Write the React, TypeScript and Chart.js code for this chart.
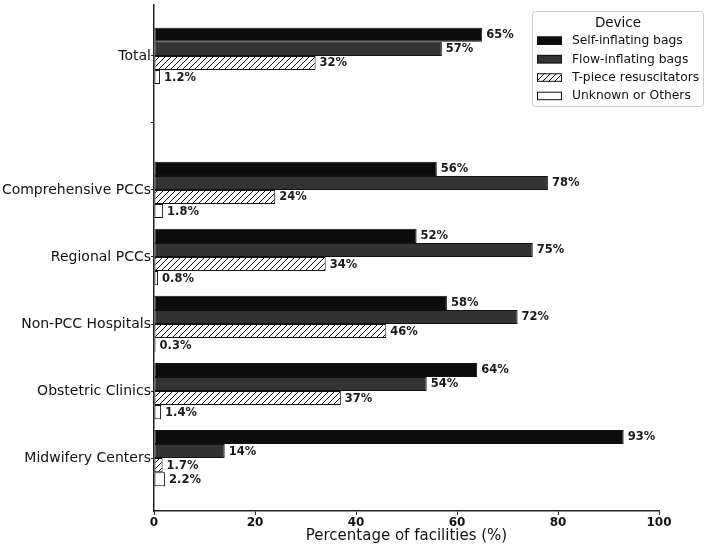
import { useEffect, useRef } from 'react';
import { Chart, registerables } from 'chart.js';

Chart.register(...registerables);

// Facility groups (the empty slot separates the overall total from the breakdown)
const categories = [
  'Total',
  '',
  'Comprehensive PCCs',
  'Regional PCCs',
  'Non-PCC Hospitals',
  'Obstetric Clinics',
  'Midwifery Centers',
];

// Share of facilities equipped with each device (%)
const selfInflating = [65, null, 56, 52, 58, 64, 93];
const flowInflating = [57, null, 78, 75, 72, 54, 14];
const tPiece = [32, null, 24, 34, 46, 37, 1.7];
const unknownOther = [1.2, null, 1.8, 0.8, 0.3, 1.4, 2.2];

const seriesNames = [
  'Self-inflating bags',
  'Flow-inflating bags',
  'T-piece resuscitators',
  'Unknown or Others',
];

const legendTitle = 'Device';
const xTitle = 'Percentage of facilities (%)';
const xMin = 0;
const xMax = 100;
const xStep = 20;

const FONT = "'DejaVu Sans', 'Liberation Sans', sans-serif";
const INK = '#111111';
const AXIS = '#222222';

type Val = number | null;

function toPoints(values: Val[]) {
  const pts: { x: number; y: number }[] = [];
  values.forEach((v, i) => {
    if (v != null) pts.push({ x: v, y: i });
  });
  return pts;
}

function fmt(v: number): string {
  return v < 10 ? `${v.toFixed(1)}%` : `${Math.round(v)}%`;
}

function makeHatch(): CanvasPattern | string {
  const s = 6;
  const c = document.createElement('canvas');
  c.width = s;
  c.height = s;
  const g = c.getContext('2d');
  if (!g) return '#ffffff';
  g.fillStyle = '#ffffff';
  g.fillRect(0, 0, s, s);
  g.strokeStyle = '#111111';
  g.lineWidth = 1;
  g.beginPath();
  g.moveTo(0, s);
  g.lineTo(s, 0);
  g.moveTo(-1, 1);
  g.lineTo(1, -1);
  g.moveTo(s - 1, s + 1);
  g.lineTo(s + 1, s - 1);
  g.stroke();
  return g.createPattern(c, 'repeat') || '#ffffff';
}

// Percent labels written just past the end of every bar
const valueLabels = {
  id: 'valueLabels',
  afterDatasetsDraw(chart: any) {
    const ctx = chart.ctx;
    ctx.save();
    ctx.font = `bold 11.5px ${FONT}`;
    ctx.fillStyle = '#1a1a1a';
    ctx.textAlign = 'left';
    ctx.textBaseline = 'middle';
    chart.data.datasets.forEach((ds: any, di: number) => {
      const meta = chart.getDatasetMeta(di);
      meta.data.forEach((bar: any, j: number) => {
        const v = ds.data[j].x as number;
        ctx.fillText(fmt(v), bar.x + 4, bar.y + 0.5);
      });
    });
    ctx.restore();
  },
};

// Boxed legend in the upper right corner
const deviceLegend = {
  id: 'deviceLegend',
  afterDraw(chart: any) {
    const ctx = chart.ctx;
    const bx = 532.5;
    const by = 11.5;
    const bw = 171;
    const bh = 95;
    ctx.save();
    ctx.beginPath();
    ctx.roundRect(bx, by, bw, bh, 3);
    ctx.fillStyle = 'rgba(255,255,255,0.9)';
    ctx.fill();
    ctx.strokeStyle = '#cccccc';
    ctx.lineWidth = 1;
    ctx.stroke();

    ctx.fillStyle = INK;
    ctx.font = `13.5px ${FONT}`;
    ctx.textAlign = 'center';
    ctx.textBaseline = 'middle';
    ctx.fillText(legendTitle, 618, 23);

    ctx.font = `12.3px ${FONT}`;
    ctx.textAlign = 'left';
    chart.data.datasets.forEach((ds: any, i: number) => {
      const cy = 40.5 + i * 18.4;
      ctx.fillStyle = ds.backgroundColor;
      ctx.fillRect(537, cy - 4, 25, 8.5);
      ctx.strokeStyle = '#111111';
      ctx.lineWidth = 1;
      ctx.strokeRect(537.5, cy - 3.5, 24, 7.5);
      ctx.fillStyle = INK;
      ctx.fillText(ds.label, 572, cy + 0.5);
    });
    ctx.restore();
  },
};

export default function App() {
  const canvasRef = useRef<HTMLCanvasElement | null>(null);

  useEffect(() => {
    if (!canvasRef.current) return;
    const hatch = makeHatch();
    const fills = ['#0c0c0c', '#333333', hatch, '#ffffff'];
    const series = [selfInflating, flowInflating, tPiece, unknownOther];

    const chart = new Chart(canvasRef.current, {
      type: 'bar',
      data: {
        datasets: series.map((vals, i) => ({
          label: seriesNames[i],
          data: toPoints(vals),
          backgroundColor: fills[i],
          borderColor: '#111111',
          borderWidth: 1,
          borderSkipped: false,
          categoryPercentage: 0.84,
          barPercentage: 1,
        })),
      } as any,
      options: {
        indexAxis: 'y',
        animation: false,
        responsive: true,
        maintainAspectRatio: false,
        layout: { padding: { top: 5, right: 50, bottom: 0, left: 0 } },
        plugins: {
          legend: { display: false },
          tooltip: { enabled: false },
        },
        scales: {
          x: {
            type: 'linear',
            position: 'bottom',
            min: xMin,
            max: xMax,
            bounds: 'data',
            ticks: {
              stepSize: xStep,
              padding: 1,
              color: INK,
              font: { family: FONT, size: 12, weight: 'bold' },
            },
            grid: {
              drawOnChartArea: false,
              drawTicks: true,
              tickLength: 4,
              tickColor: AXIS,
              tickWidth: 1,
            },
            border: { display: true, color: AXIS, width: 1.5 },
            title: {
              display: true,
              text: xTitle,
              color: INK,
              font: { family: FONT, size: 15 },
              padding: { top: 0, bottom: 4 },
            },
            afterFit: (s: any) => {
              s.height = 38;
              s.paddingLeft = 0;
              s.paddingRight = 0;
            },
          },
          y: {
            type: 'linear',
            reverse: true,
            offset: false,
            min: -0.76,
            max: 6.79,
            bounds: 'data',
            afterBuildTicks: (s: any) => {
              s.ticks = categories.map((_, i) => ({ value: i }));
            },
            afterFit: (s: any) => {
              s.width = 154;
              s.paddingTop = 0;
              s.paddingBottom = 0;
            },
            ticks: {
              autoSkip: false,
              padding: 0,
              color: INK,
              font: { family: FONT, size: 14 },
              callback: (v: any) => categories[v as number] ?? '',
            },
            grid: {
              offset: false,
              drawOnChartArea: false,
              drawTicks: true,
              tickLength: 3,
              tickColor: AXIS,
              tickWidth: 1,
            },
            border: { display: true, color: AXIS, width: 1.5 },
          },
        },
      } as any,
      plugins: [valueLabels, deviceLegend],
    });

    return () => chart.destroy();
  }, []);

  return (
    <div
      style={{
        position: 'fixed',
        left: 0,
        top: 0,
        width: 709,
        height: 549,
        background: '#ffffff',
      }}
    >
      <canvas ref={canvasRef} />
    </div>
  );
}
